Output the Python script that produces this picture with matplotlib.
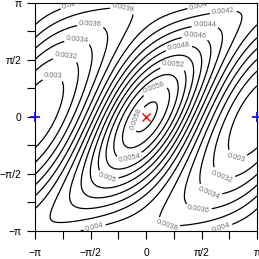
import numpy as np
import matplotlib
matplotlib.use("Agg")
import matplotlib.pyplot as plt

#--------------------------------------------------Data------------------------------------------------#

# log-surface coefficients: const, cos x, cos y, cos(x-y), cos(x+y), cos 2(x-y)
Coef = [-5.51899, 0.162385, 0.0100413, 0.18976, 0.0136794, 0.0044381]

Levels = [0.003, 0.0032, 0.0034, 0.0036, 0.0038, 0.004, 0.0042, 0.0044,
          0.0046, 0.0048, 0.005, 0.0052, 0.0054, 0.0056, 0.0058]

# where the contour labels sit
LabelX = [-0.64, -2.10, -1.57, -1.94, -2.27, -2.62, 1.48, 2.19, 1.67, 1.39, 0.92,
          0.77, 0.25, -0.26, -0.50, -1.11, 2.57, 2.14, 1.76, 1.48, 0.58, 2.14, -1.44]
LabelY = [3.01, 3.05, 2.55, 2.14, 1.67, 1.01, 3.08, 2.83, 2.53, 2.25, 1.95,
          1.33, 0.78, -0.04, -1.02, -1.74, -1.02, -1.69, -2.17, -2.58, -3.02, -3.07, -3.10]

MaxPt = [0.0, 0.0]
TruePtX = [-np.pi, np.pi]
TruePtY = [0.0, 0.0]

TickPos = [-np.pi, -np.pi/2, 0, np.pi/2, np.pi]
TickLab = ["\u2212\u03c0", "\u2212\u03c0/2", "0", "\u03c0/2", "\u03c0"]
MinorPos = [-3*np.pi/4, -np.pi/4, np.pi/4, 3*np.pi/4]

#--------------------------------------------------Surface---------------------------------------------#

def Surf(x, y, c):
    return np.exp(c[0] + c[1]*np.cos(x) + c[2]*np.cos(y) + c[3]*np.cos(x - y)
                  + c[4]*np.cos(x + y) + c[5]*np.cos(2*(x - y)))

g = np.linspace(-np.pi, np.pi, 241)
X, Y = np.meshgrid(g, g)
Z = Surf(X, Y, Coef)

#--------------------------------------------------Plot------------------------------------------------#

plt.rcParams['font.family'] = ['Liberation Sans', 'DejaVu Sans']

fig = plt.figure(figsize=(2.59, 2.59), dpi=100)
ax = fig.add_axes([35/259, 28/259, 222/259, 228.3/259])

cs = ax.contour(X, Y, Z, levels=Levels, colors='black', linewidths=0.9)
lab = ax.clabel(cs, fmt=lambda v: "%g" % v, fontsize=5.4, colors='#707070',
                inline=True, inline_spacing=2, manual=list(zip(LabelX, LabelY)))

ax.plot(MaxPt[0], MaxPt[1], 'x', color='red', markersize=6, mew=1.0)
ax.plot(TruePtX, TruePtY, '+', color='blue', markersize=7.5, mew=1.2, clip_on=False, zorder=5)

ax.set_xlim(-np.pi, np.pi)
ax.set_ylim(-np.pi, np.pi)
ax.set_xticks(TickPos)
ax.set_xticklabels(TickLab)
ax.set_yticks(TickPos)
ax.set_yticklabels(TickLab)
ax.set_xticks(MinorPos, minor=True)
ax.set_yticks(MinorPos, minor=True)
ax.tick_params(which='both', direction='out', length=5.8, width=0.8, labelsize=7.5)
ax.tick_params(axis='x', pad=6.5)
ax.tick_params(axis='y', pad=4)
for s in ax.spines.values():
    s.set_linewidth(0.8)

fig.savefig("out.png", dpi=100)
